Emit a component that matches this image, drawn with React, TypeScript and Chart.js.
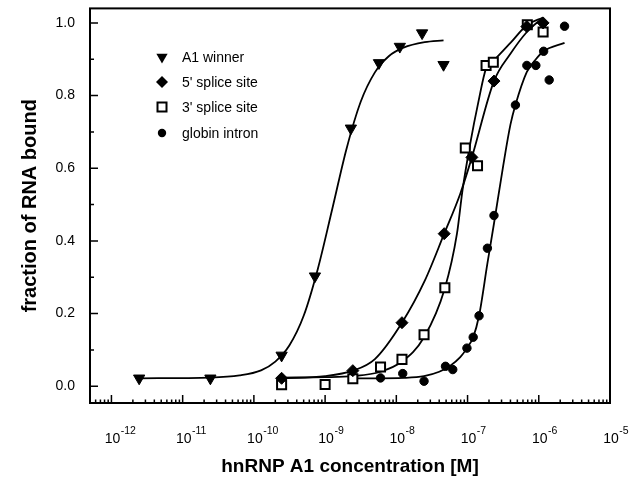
import React, { useEffect, useRef } from "react";
import { Chart, registerables } from "chart.js";

Chart.register(...registerables);

// ---- axis ticks ----
const xTickValues = [1e-12, 1e-11, 1e-10, 1e-9, 1e-8, 1e-7, 1e-6, 1e-5];
const xTickBase = "10";
const xTickExponents = ["-12", "-11", "-10", "-9", "-8", "-7", "-6", "-5"];
const yTickValues = [0, 0.2, 0.4, 0.6, 0.8, 1.0];
const yMinorTickValues = [0.1, 0.3, 0.5, 0.7, 0.9];

const xTitle = "hnRNP A1 concentration [M]";
const yTitle = "fraction of RNA bound";
const seriesNames = ["A1 winner", "5' splice site", "3' splice site", "globin intron"];

// ---- measured points ----
const a1Conc = [2.45e-12, 2.45e-11, 2.45e-10, 7.2e-10, 2.3e-9, 5.7e-9, 1.12e-8, 2.3e-8, 4.6e-8];
const a1Bound = [0.022, 0.022, 0.085, 0.303, 0.71, 0.89, 0.935, 0.972, 0.885];

const ss5Conc = [2.45e-10, 2.45e-9, 1.2e-8, 4.7e-8, 1.15e-7, 2.35e-7, 6.8e-7, 1.15e-6];
const ss5Bound = [0.022, 0.043, 0.175, 0.42, 0.63, 0.84, 0.99, 1.0];

const ss3Conc = [2.45e-10, 1e-9, 2.45e-9, 6e-9, 1.2e-8, 2.45e-8, 4.8e-8, 9.3e-8, 1.38e-7, 1.82e-7, 2.3e-7, 6.9e-7, 1.15e-6];
const ss3Bound = [0.004, 0.005, 0.021, 0.053, 0.074, 0.142, 0.271, 0.656, 0.607, 0.883, 0.892, 0.995, 0.975];

const globinConc = [6e-9, 1.23e-8, 2.45e-8, 4.9e-8, 6.2e-8, 9.8e-8, 1.2e-7, 1.45e-7, 1.9e-7, 2.35e-7, 4.7e-7, 6.8e-7, 9.1e-7, 1.17e-6, 1.4e-6, 2.3e-6];
const globinBound = [0.023, 0.035, 0.014, 0.055, 0.046, 0.105, 0.135, 0.194, 0.38, 0.47, 0.774, 0.883, 0.883, 0.922, 0.843, 0.991];

// ---- fitted curves ----
const a1FitConc = [2.45e-12, 2.45e-11, 6.3e-11, 1.26e-10, 2.0e-10, 3.16e-10, 5.0e-10, 7.9e-10, 1.26e-9, 2.0e-9, 3.16e-9, 5.0e-9, 7.9e-9, 1.26e-8, 2.5e-8, 4.6e-8];
const a1FitBound = [0.022, 0.024, 0.03, 0.044, 0.068, 0.113, 0.194, 0.323, 0.488, 0.654, 0.783, 0.864, 0.909, 0.932, 0.947, 0.952];

const ss5FitConc = [2.45e-10, 1e-9, 2.45e-9, 5e-9, 1.2e-8, 2.5e-8, 4.7e-8, 7.9e-8, 1.15e-7, 2.35e-7, 4e-7, 6.8e-7, 1.15e-6];
const ss5FitBound = [0.022, 0.028, 0.043, 0.075, 0.175, 0.29, 0.42, 0.53, 0.63, 0.84, 0.915, 0.975, 1.015];

const ss3FitConc = [2.45e-10, 1e-9, 2.45e-9, 6e-9, 1.2e-8, 2.45e-8, 4.8e-8, 7.1e-8, 8.5e-8, 1.1e-7, 1.41e-7, 1.82e-7, 2.3e-7, 4e-7, 6.9e-7, 1.15e-6];
const ss3FitBound = [0.024, 0.025, 0.028, 0.04, 0.068, 0.135, 0.27, 0.42, 0.54, 0.672, 0.78, 0.875, 0.895, 0.945, 0.995, 1.015];

const globinFitConc = [2.45e-9, 6e-9, 1.23e-8, 2.45e-8, 4e-8, 5.6e-8, 7.9e-8, 9.8e-8, 1.2e-7, 1.45e-7, 1.9e-7, 2.35e-7, 3.16e-7, 4e-7, 4.7e-7, 6.8e-7, 9.1e-7, 1.17e-6, 2.3e-6];
const globinFitBound = [0.022, 0.022, 0.023, 0.028, 0.04, 0.055, 0.08, 0.105, 0.135, 0.194, 0.338, 0.448, 0.606, 0.72, 0.774, 0.865, 0.9, 0.922, 0.945];

const FONT = '"Liberation Sans", Arial, Helvetica, sans-serif';

const pts = (xs: number[], ys: number[]) => xs.map((x, i) => ({ x, y: ys[i] }));

const framePlugin = {
  id: "frameTicksLegend",
  afterDatasetsDraw(chart: any) {
    const { ctx, chartArea, scales } = chart;
    const { left, right, top, bottom } = chartArea;
    const xs = scales.x;
    const ys = scales.y;
    ctx.save();
    ctx.strokeStyle = "#000";
    ctx.lineWidth = 2;
    ctx.strokeRect(left, top, right - left, bottom - top);

    ctx.lineWidth = 1.5;
    ctx.beginPath();
    for (const v of xTickValues) {
      const px = xs.getPixelForValue(v);
      ctx.moveTo(px, bottom);
      ctx.lineTo(px, bottom - 8);
    }
    for (let d = -13; d <= -6; d++) {
      for (let k = 2; k <= 9; k++) {
        const v = k * Math.pow(10, d);
        if (v <= xs.min || v >= xs.max) continue;
        const px = xs.getPixelForValue(v);
        ctx.moveTo(px, bottom);
        ctx.lineTo(px, bottom - 3.5);
      }
    }
    for (const v of yTickValues) {
      const py = ys.getPixelForValue(v);
      ctx.moveTo(left, py);
      ctx.lineTo(left + 8, py);
    }
    for (const v of yMinorTickValues) {
      const py = ys.getPixelForValue(v);
      ctx.moveTo(left, py);
      ctx.lineTo(left + 4, py);
    }
    ctx.stroke();

    // x tick labels with superscript exponents
    ctx.fillStyle = "#000";
    ctx.textBaseline = "alphabetic";
    ctx.textAlign = "left";
    xTickValues.forEach((v, i) => {
      const px = xs.getPixelForValue(v);
      ctx.font = `14px ${FONT}`;
      const bw = ctx.measureText(xTickBase).width;
      const bx = px - bw / 2 + 1;
      ctx.fillText(xTickBase, bx, bottom + 40);
      ctx.font = `10.5px ${FONT}`;
      ctx.fillText(xTickExponents[i], bx + bw + 0.5, bottom + 31);
    });

    // legend inside plot
    const lx = left + 72;
    const tx = left + 92;
    const rows = [57, 82, 107, 133];
    ctx.font = `14px ${FONT}`;
    ctx.textBaseline = "middle";
    ctx.textAlign = "left";
    seriesNames.forEach((name, i) => {
      const cy = rows[i];
      ctx.beginPath();
      if (i === 0) {
        const r = 6.5;
        ctx.moveTo(lx, cy + r);
        ctx.lineTo(lx - r * 0.866, cy - r / 2);
        ctx.lineTo(lx + r * 0.866, cy - r / 2);
        ctx.closePath();
        ctx.fill();
      } else if (i === 1) {
        const r = 6;
        ctx.moveTo(lx, cy - r);
        ctx.lineTo(lx + r, cy);
        ctx.lineTo(lx, cy + r);
        ctx.lineTo(lx - r, cy);
        ctx.closePath();
        ctx.fill();
      } else if (i === 2) {
        ctx.lineWidth = 2;
        ctx.fillStyle = "#fff";
        ctx.rect(lx - 4.5, cy - 4.5, 9, 9);
        ctx.fill();
        ctx.stroke();
        ctx.fillStyle = "#000";
      } else {
        ctx.arc(lx, cy, 4.2, 0, Math.PI * 2);
        ctx.fill();
      }
      ctx.fillText(name, tx, cy + 1);
    });
    ctx.restore();
  },
};

export default function App() {
  const ref = useRef<HTMLCanvasElement | null>(null);
  useEffect(() => {
    if (!ref.current) return;
    const markerBase = { showLine: false, borderColor: "#000", pointBorderColor: "#000" };
    const lineBase = {
      showLine: true,
      pointRadius: 0,
      borderColor: "#000",
      borderWidth: 1.8,
      cubicInterpolationMode: "monotone",
      fill: false,
    };
    const chart = new Chart(ref.current, {
      type: "scatter",
      data: {
        datasets: [
          { ...markerBase, label: seriesNames[0], data: pts(a1Conc, a1Bound), pointStyle: "triangle", rotation: 180, pointRadius: 6.5, backgroundColor: "#000", pointBackgroundColor: "#000", pointBorderWidth: 1 },
          { ...markerBase, label: seriesNames[1], data: pts(ss5Conc, ss5Bound), pointStyle: "rectRot", pointRadius: 6, backgroundColor: "#000", pointBackgroundColor: "#000", pointBorderWidth: 1 },
          { ...markerBase, label: seriesNames[2], data: pts(ss3Conc, ss3Bound), pointStyle: "rect", pointRadius: 6.4, backgroundColor: "#fff", pointBackgroundColor: "#fff", pointBorderWidth: 2 },
          { ...markerBase, label: seriesNames[3], data: pts(globinConc, globinBound), pointStyle: "circle", pointRadius: 4.2, backgroundColor: "#000", pointBackgroundColor: "#000", pointBorderWidth: 1 },
          { ...lineBase, label: "A1 winner fit", data: pts(a1FitConc, a1FitBound) },
          { ...lineBase, label: "5' fit", data: pts(ss5FitConc, ss5FitBound) },
          { ...lineBase, label: "3' fit", data: pts(ss3FitConc, ss3FitBound) },
          { ...lineBase, label: "globin fit", data: pts(globinFitConc, globinFitBound) },
        ] as any,
      },
      options: {
        animation: false,
        responsive: false,
        events: [],
        layout: { padding: { top: 5, right: 32, left: 0, bottom: 0 } },
        plugins: { legend: { display: false }, tooltip: { enabled: false } },
        scales: {
          x: {
            type: "logarithmic",
            min: 5e-13,
            max: 1e-5,
            border: { display: false },
            grid: { display: false, drawTicks: false },
            afterBuildTicks: (s: any) => {
              s.ticks = xTickValues.map((v) => ({ value: v }));
            },
            afterFit: (s: any) => {
              s.height = 82;
              s.paddingLeft = 0;
              s.paddingRight = 0;
            },
            ticks: {
              autoSkip: false,
              maxRotation: 0,
              minRotation: 0,
              padding: 25,
              color: "#000",
              font: { family: FONT, size: 14 },
              callback: () => "",
            },
            title: {
              display: true,
              text: xTitle,
              color: "#000",
              font: { family: FONT, size: 19, weight: "bold" },
              padding: { top: 0, bottom: 7 },
            },
          },
          y: {
            type: "linear",
            min: -0.046,
            max: 1.04,
            border: { display: false },
            grid: { display: false, drawTicks: false },
            afterBuildTicks: (s: any) => {
              s.ticks = yTickValues.map((v) => ({ value: v }));
            },
            afterFit: (s: any) => {
              s.width = 90;
              s.paddingTop = 0;
              s.paddingBottom = 0;
            },
            ticks: {
              padding: 15,
              color: "#000",
              font: { family: FONT, size: 14, lineHeight: 0.5 },
              callback: (v: any) => Number(v).toFixed(1),
            },
            title: {
              display: true,
              text: yTitle,
              color: "#000",
              font: { family: FONT, size: 20, weight: "bold" },
              padding: { top: 18, bottom: 0 },
            },
          },
        },
      },
      plugins: [framePlugin],
    } as any);
    return () => chart.destroy();
  }, []);
  return (
    <div style={{ position: "absolute", left: 0, top: 0, width: 642, height: 485, background: "#fff" }}>
      <canvas ref={ref} width={642} height={485} style={{ display: "block" }} />
    </div>
  );
}
